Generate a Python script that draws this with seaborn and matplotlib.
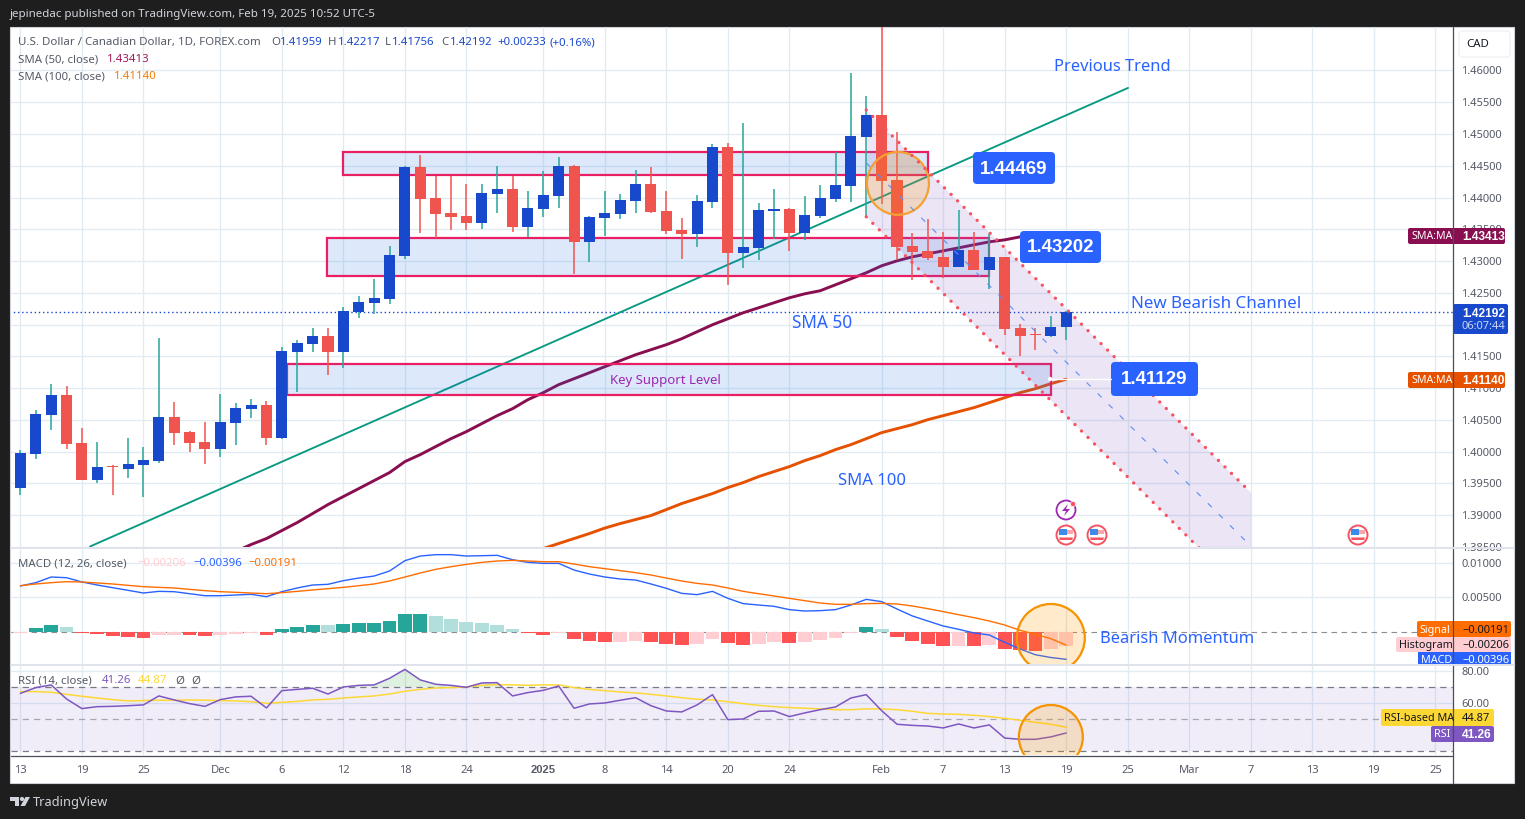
import numpy as np
import pandas as pd
import matplotlib
matplotlib.use("Agg")
import matplotlib.pyplot as plt
from matplotlib.patches import Rectangle, Ellipse, Circle, FancyBboxPatch, Polygon
import seaborn as sns

# candles, one entry per trading day (13 Nov 2024 -> 19 Feb 2025)
open_ = [1.39435,1.39970,1.40583,1.40897,1.40143,1.39561,1.39770,1.39734,1.39797,1.39860,
         1.40552,1.40316,1.40158,1.40048,1.40457,1.40677,1.40740,1.40221,1.41574,1.41699,
         1.41825,1.41574,1.42202,1.42344,1.42407,1.43083,1.44482,1.43995,1.43759,1.43712,
         1.43602,1.44058,1.44136,1.43539,1.43822,1.44026,1.44498,1.43303,1.43680,1.43743,
         1.43948,1.44215,1.43790,1.43492,1.43429,1.43932,1.44797,1.43130,1.43208,1.43790,
         1.43822,1.43444,1.43712,1.43979,1.44184,1.44954,1.45300,1.44278,1.43240,1.43161,
         1.43067,1.42910,1.43177,1.42863,1.43067,1.41951,1.41850,1.41825,1.41959]
high = [1.40033,1.40662,1.41070,1.41039,1.40379,1.40158,1.39797,1.40221,1.40080,1.41794,
        1.40787,1.40331,1.40473,1.40913,1.40772,1.40835,1.40803,1.41652,1.41762,1.41951,
        1.41951,1.42281,1.42454,1.42721,1.43240,1.44498,1.44671,1.44341,1.44341,1.44215,
        1.44215,1.44498,1.44341,1.44105,1.44419,1.44640,1.44514,1.43712,1.44105,1.44058,
        1.44435,1.44482,1.44105,1.43680,1.44042,1.44844,1.44860,1.45174,1.43916,1.44136,
        1.43838,1.44026,1.44199,1.44718,1.45960,1.45599,1.47920,1.45033,1.43444,1.43665,
        1.43460,1.43806,1.43460,1.43429,1.43067,1.42014,1.41951,1.42140,1.42217]
low = [1.39325,1.39891,1.40347,1.40048,1.39561,1.39514,1.39325,1.39592,1.39294,1.39828,
       1.40111,1.40001,1.39813,1.39923,1.40111,1.40536,1.40111,1.40205,1.40945,1.41574,
       1.41212,1.41322,1.42108,1.42171,1.42328,1.43036,1.43444,1.43366,1.43492,1.43492,
       1.43507,1.43759,1.43460,1.43381,1.43696,1.43838,1.42800,1.42989,1.43397,1.43665,
       1.43759,1.43759,1.43429,1.43036,1.43224,1.43838,1.42627,1.42894,1.43020,1.43350,
       1.43161,1.43334,1.43680,1.43932,1.43932,1.43696,1.43900,1.43020,1.42706,1.43020,
       1.42737,1.42910,1.42863,1.42564,1.41841,1.41511,1.41605,1.41810,1.41756]
close = [1.39985,1.40599,1.40897,1.40127,1.39561,1.39765,1.39755,1.39813,1.39875,1.40552,
         1.40300,1.40143,1.40048,1.40473,1.40693,1.40740,1.40221,1.41589,1.41715,1.41825,
         1.41574,1.42218,1.42360,1.42422,1.43099,1.44482,1.43979,1.43743,1.43696,1.43602,
         1.44073,1.44136,1.43539,1.43838,1.44042,1.44498,1.43303,1.43696,1.43759,1.43964,
         1.44215,1.43775,1.43476,1.43429,1.43948,1.44797,1.43130,1.43224,1.43806,1.43822,
         1.43444,1.43728,1.43995,1.44199,1.44970,1.45300,1.44262,1.43224,1.43146,1.43051,
         1.42910,1.43177,1.42863,1.43067,1.41935,1.41825,1.41830,1.41967,1.42192]

# moving averages, they enter the view later than the candles
sma50_start = 14
sma50 = [1.38429,1.38539,1.38633,1.38759,1.38885,1.39026,1.39168,1.39294,1.39419,1.39545,
         1.39671,1.39844,1.39954,1.40080,1.40205,1.40316,1.40442,1.40567,1.40677,1.40819,
         1.40929,1.41055,1.41149,1.41243,1.41338,1.41432,1.41526,1.41605,1.41684,1.41778,
         1.41888,1.41998,1.42092,1.42187,1.42265,1.42344,1.42422,1.42485,1.42533,1.42627,
         1.42721,1.42816,1.42926,1.43004,1.43067,1.43114,1.43161,1.43208,1.43256,1.43303,
         1.43334,1.43381,1.43389,1.43397,1.43413]
sma100_start = 34
sma100 = [1.38476,1.38555,1.38633,1.38712,1.38798,1.38869,1.38932,1.38995,1.39089,1.39184,
          1.39262,1.39341,1.39435,1.39514,1.39608,1.39687,1.39765,1.39860,1.39938,1.40033,
          1.40111,1.40205,1.40300,1.40363,1.40426,1.40504,1.40567,1.40630,1.40693,1.40772,
          1.40850,1.40929,1.40992,1.41070,1.41140]

# macd pane
macd_hist = [-0.00014,0.00053,0.00097,0.00068,-0.00010,-0.00034,-0.00063,-0.00077,-0.00092,-0.00048,
             -0.00046,-0.00050,-0.00063,-0.00048,-0.00034,-0.00014,-0.00048,0.00039,0.00068,0.00097,
             0.00095,0.00111,0.00126,0.00128,0.00155,0.00256,0.00258,0.00227,0.00184,0.00140,
             0.00126,0.00097,0.00039,-0.00010,-0.00039,-0.00014,-0.00097,-0.00126,-0.00140,-0.00138,
             -0.00126,-0.00140,-0.00169,-0.00184,-0.00169,-0.00097,-0.00155,-0.00184,-0.00169,-0.00152,
             -0.00155,-0.00140,-0.00111,-0.00082,-0.00010,0.00068,0.00039,-0.00068,-0.00126,-0.00169,
             -0.00198,-0.00196,-0.00199,-0.00184,-0.00242,-0.00256,-0.00271,-0.00242,-0.00206]
macd_line = [0.00667,0.00715,0.00797,0.00787,0.00725,0.00681,0.00642,0.00604,0.00565,0.00589,
             0.00584,0.00555,0.00526,0.00526,0.00536,0.00546,0.00512,0.00584,0.00638,0.00681,
             0.00691,0.00744,0.00782,0.00811,0.00884,0.01034,0.01101,0.01121,0.01121,0.01101,
             0.01106,0.01111,0.01048,0.01009,0.00995,0.00995,0.00898,0.00840,0.00797,0.00768,
             0.00753,0.00696,0.00633,0.00560,0.00541,0.00589,0.00488,0.00411,0.00391,0.00372,
             0.00324,0.00304,0.00309,0.00324,0.00391,0.00473,0.00440,0.00333,0.00232,0.00159,
             0.00087,0.00039,-0.00014,-0.00043,-0.00150,-0.00246,-0.00330,-0.00370,-0.00396]
signal_line = [0.00671,0.00696,0.00715,0.00729,0.00725,0.00710,0.00696,0.00676,0.00657,0.00647,
               0.00638,0.00618,0.00599,0.00584,0.00575,0.00565,0.00555,0.00570,0.00589,0.00609,
               0.00628,0.00647,0.00671,0.00696,0.00739,0.00797,0.00855,0.00908,0.00947,0.00980,
               0.01009,0.01029,0.01038,0.01029,0.01019,0.01019,0.00985,0.00947,0.00918,0.00889,
               0.00860,0.00826,0.00782,0.00739,0.00705,0.00681,0.00638,0.00589,0.00555,0.00522,
               0.00488,0.00454,0.00420,0.00401,0.00401,0.00411,0.00415,0.00406,0.00377,0.00338,
               0.00295,0.00251,0.00208,0.00159,0.00101,0.00024,-0.00034,-0.00097,-0.00191]

# rsi pane
rsi = [66.0,69.6,71.3,62.5,56.5,57.7,57.9,58.3,58.8,64.4,
       61.9,59.6,57.9,62.1,63.8,64.2,56.9,67.7,68.5,69.2,
       65.6,70.0,71.0,71.3,75.4,81.0,74.4,71.7,71.0,69.8,
       72.5,72.7,64.4,66.5,67.9,70.6,56.7,59.4,60.0,61.7,
       63.3,58.3,55.0,54.4,58.8,65.2,49.6,50.0,54.8,55.0,
       51.5,53.8,55.8,57.5,63.1,65.2,55.2,46.7,46.0,45.6,
       44.4,46.9,44.4,46.3,38.1,37.3,37.3,38.8,41.26]
rsi_ma = [67.1,67.1,66.7,65.4,64.2,63.1,62.1,61.3,61.5,61.7,
          61.7,61.9,61.7,61.5,61.3,60.8,59.8,60.4,61.0,61.9,
          62.3,63.1,63.8,64.4,65.6,67.3,68.5,69.4,69.6,70.0,
          71.0,71.5,71.3,71.0,71.3,71.3,69.6,68.5,67.7,66.9,
          66.3,65.4,64.4,63.3,62.3,61.9,60.8,59.6,58.5,57.7,
          57.1,56.7,56.3,55.8,55.8,56.3,56.3,55.8,54.8,53.5,
          53.1,52.9,52.3,51.5,50.4,49.2,47.9,46.7,44.87]

# time axis
date_pos = [0,4,8,13,17,21,25,29,34,38,42,46,50,56,60,64,68,72,76,80,84,88,92]
date_labels = ["13","19","25","Dec","6","12","18","24","2025","8","14","20","24",
               "Feb","7","13","19","25","Mar","7","13","19","25"]
price_ticks = [1.385,1.39,1.395,1.40,1.405,1.41,1.415,1.42,1.425,1.43,1.435,1.44,1.445,1.45,1.455,1.46]

W, H = 1525, 819
UP, DOWN = "#1848cc", "#f0544f"
WICK_UP, WICK_DOWN = "#26a69a", "#f0544f"
GRID = "#e1ecf2"
TEXT = "#555a66"
BLUE = "#2962ff"
PINK = "#e91e63"
BOLD = "Liberation Sans"

sns.set_theme(style="white")
plt.rcParams["font.family"] = ["Noto Sans", "DejaVu Sans"]

fig = plt.figure(figsize=(W / 100, H / 100), dpi=100, facecolor="#1e1e1e")


def pane(top, bottom):
    return fig.add_axes([11 / W, 1 - bottom / H, (1453 - 11) / W, (bottom - top) / H], facecolor="none")


# white sheet under the panes, pixel axes on top for the tags
back = fig.add_axes([0, 0, 1, 1], zorder=0)
back.set_xlim(0, W)
back.set_ylim(H, 0)
back.axis("off")
back.add_patch(Rectangle((10, 27), 1504, 756, fc="white", ec="#cfd2d8", lw=0.8))

ax = pane(27, 547)
ax_macd = pane(549, 664)
ax_rsi = pane(666, 755)
for a in (ax, ax_macd, ax_rsi):
    a.set_zorder(1)

over = fig.add_axes([0, 0, 1, 1], zorder=5, facecolor="none")
over.set_xlim(0, W)
over.set_ylim(H, 0)
over.axis("off")

idx = np.arange(len(close))
o, h, l, c = map(np.array, (open_, high, low, close))
is_up = c >= o

# ---------- price pane ----------
ax.hlines(close[-1], -1, 94, color=UP, lw=1, ls=(0, (1, 2)), zorder=1.5)
sns.lineplot(x=np.arange(sma50_start, 69), y=sma50, ax=ax, color="#880e4f", lw=2.1, zorder=2,
             estimator=None, errorbar=None)
sns.lineplot(x=np.arange(sma100_start, 69), y=sma100, ax=ax, color="#e65100", lw=2.1, zorder=2,
             estimator=None, errorbar=None)
# trend line
ax.plot([4.53, 72.02], [1.38508, 1.45725], color="#089981", lw=1.35, zorder=2)

# zones
for x0, x1, y0, y1 in [(20.97, 59.01, 1.44357, 1.44718),
                       (19.94, 62.98, 1.42768, 1.43366),
                       (17.33, 67.01, 1.40897, 1.41385)]:
    ax.add_patch(Rectangle((x0, y0), x1 - x0, y1 - y0, fc="#1e6fe8", alpha=0.15, ec="none", zorder=3))
    ax.add_patch(Rectangle((x0, y0), x1 - x0, y1 - y0, fc="none", ec=PINK, lw=1.6, zorder=3))

# bearish channel
ch_x = [55, 80]
ch_top = [1.45378, 1.39357]
ch_mid = [1.44545, 1.38515]
ch_bot = [1.43696, 1.37674]
ax.fill_between(ch_x, ch_bot, ch_top, color="#7e57c2", alpha=0.15, lw=0, zorder=3)

# candles
ax.vlines(idx, l, h, colors=[WICK_UP if u else WICK_DOWN for u in is_up], lw=1.1, zorder=4)
ax.bar(idx, np.abs(c - o), bottom=np.minimum(o, c), width=0.72,
       color=[UP if u else DOWN for u in is_up], linewidth=0, zorder=4.2)

ax.plot(ch_x, ch_mid, color="#5b8cf5", lw=0.8, ls=(0, (5, 9)), zorder=4.5)
for yy in (ch_top, ch_bot):
    ax.plot(ch_x, yy, color="#f7525f", lw=2.4, ls=(0, (0.01, 2.75)), dash_capstyle="round", zorder=4.5)

ax.add_patch(Ellipse((57.06, 1.44223), 4.03, 0.0099, fc="#ff9800", alpha=0.2, ec="none", zorder=4.3))
ax.add_patch(Ellipse((57.06, 1.44223), 4.03, 0.0099, fc="none", ec="#f5a033", lw=1.6, zorder=4.3))

ax.set_ylim(1.38508, 1.46684)
ax.set_yticks(price_ticks)
# 1.42000 sits fully behind the last price tag, same as the original
ax.set_yticklabels(["" if p == 1.42 else f"{p:.5f}" for p in price_ticks])

# ---------- macd pane ----------
hist = np.array(macd_hist)
rising = np.diff(hist, prepend=-0.0002) > 0
state = np.where(hist >= 0, np.where(rising, "up", "up_fade"), np.where(rising, "down_fade", "down"))
hist_df = pd.DataFrame({"bar": idx, "value": hist, "state": state})
sns.barplot(data=hist_df, x="bar", y="value", hue="state", native_scale=True, dodge=False, width=0.9,
            palette={"up": "#26a69a", "up_fade": "#b2dfdb", "down": "#ff5252", "down_fade": "#ffcdd2"},
            saturation=1, legend=False, ax=ax_macd, linewidth=0, zorder=2)
ax_macd.axhline(0, color="#8a8d96", lw=0.8, ls=(0, (5, 4)), zorder=1.5)
sns.lineplot(x=idx, y=macd_line, ax=ax_macd, color=BLUE, lw=1, zorder=3, estimator=None, errorbar=None)
sns.lineplot(x=idx, y=signal_line, ax=ax_macd, color="#ff6d00", lw=1, zorder=3, estimator=None, errorbar=None)
ax_macd.add_patch(Ellipse((67, -0.00087), 4.42, 0.00986, fc="#ff9800", alpha=0.2, ec="none", zorder=3.5))
ax_macd.add_patch(Ellipse((67, -0.00087), 4.42, 0.00986, fc="none", ec="#f59300", lw=1.6, zorder=3.5))
ax_macd.set_ylim(-0.00464, 0.01203)
ax_macd.set_yticks([0.005, 0.01])
ax_macd.set_yticklabels(["0.00500", "0.01000"])

# ---------- rsi pane ----------
ax_rsi.axhspan(30, 70, color="#7e57c2", alpha=0.1, lw=0, zorder=1.2)
ax_rsi.axhline(70, color="#787b86", lw=0.9, ls=(0, (5, 4)), zorder=1.5)
ax_rsi.axhline(50, color="#a5a7b0", lw=0.9, ls=(0, (5, 4)), zorder=1.5)
ax_rsi.axhline(30, color="#787b86", lw=0.9, ls=(0, (5, 4)), zorder=1.5)
rsi_arr = np.array(rsi)
ax_rsi.fill_between(idx, 70, rsi_arr, where=rsi_arr > 70, interpolate=True, color="#4caf50", alpha=0.18, lw=0, zorder=2)
sns.lineplot(x=idx, y=rsi_ma, ax=ax_rsi, color="#fdd835", lw=1.1, zorder=3, estimator=None, errorbar=None)
sns.lineplot(x=idx, y=rsi, ax=ax_rsi, color="#7e57c2", lw=1.1, zorder=3, estimator=None, errorbar=None)
ax_rsi.add_patch(Ellipse((67, 38.75), 4.16, 40, fc="#ff9800", alpha=0.2, ec="none", zorder=3.5))
ax_rsi.add_patch(Ellipse((67, 38.75), 4.16, 40, fc="none", ec="#f59300", lw=1.6, zorder=3.5))
ax_rsi.set_ylim(27.5, 83.1)
ax_rsi.set_yticks([60, 80])
ax_rsi.set_yticklabels(["60.00", "80.00"])

# shared look of the panes
for a in (ax, ax_macd, ax_rsi):
    a.set_xlim(-0.611, 93.15)
    a.set_xticks(date_pos)
    a.set_xlabel("")
    a.set_ylabel("")
    a.yaxis.tick_right()
    a.grid(True, color=GRID, lw=1)
    a.set_axisbelow(True)
    a.tick_params(axis="y", length=0, pad=6, labelsize=8, labelcolor=TEXT)
    a.tick_params(axis="x", length=0, labelbottom=False)
    for s in a.spines.values():
        s.set_visible(False)
ax_rsi.tick_params(axis="x", labelbottom=True, labelsize=8, labelcolor=TEXT, pad=7)
ax_rsi.set_xticklabels(date_labels)
for lab in ax_rsi.get_xticklabels():
    if lab.get_text() == "2025":
        lab.set_fontweight("bold")
        lab.set_family(BOLD)

# ---------- frame lines ----------
over.plot([1453, 1453], [27, 783], color="#4a4e5a", lw=0.9)
over.plot([11, 1453], [756, 756], color="#4a4e5a", lw=0.9)
over.plot([11, 1514], [548, 548], color="#e0e3eb", lw=1.4)
over.plot([11, 1514], [665, 665], color="#e0e3eb", lw=1.4)


def txt(x, y, s, color=TEXT, size=8.2, **kw):
    kw.setdefault("va", "center")
    # centred boxes sit a little high with these fonts
    over.text(x, y + 0.9 + (size - 8) * 0.2, s, color=color, fontsize=size, **kw)


def tag(x0, y0, x1, y1, color):
    over.add_patch(FancyBboxPatch((x0, y0), x1 - x0, y1 - y0, boxstyle="round,pad=0,rounding_size=2",
                                  fc=color, ec="none"))


# ---------- header and legends ----------
txt(10, 13.5, "jepinedac published on TradingView.com, Feb 19, 2025 10:52 UTC-5", color="#d1d4dc", size=8.3)
txt(18, 42, "U.S. Dollar / Canadian Dollar, 1D, FOREX.com", size=8.3)
for x, s, col in [(271, "O", TEXT), (280, "1.41959", UP), (328, "H", TEXT), (338, "1.42217", UP),
                  (385, "L", TEXT), (392, "1.41756", UP), (441, "C", TEXT), (450, "1.42192", UP),
                  (497, "+0.00233", UP), (549, "(+0.16%)", UP)]:
    txt(x, 42, s, color=col)
txt(18, 59, "SMA (50, close)")
txt(107, 59, "1.43413", color="#a3195b")
txt(18, 76, "SMA (100, close)")
txt(114, 76, "1.41140", color="#f57c00")
txt(18, 563, "MACD (12, 26, close)")
txt(137, 563, "−0.00206", color="#ffcdd2")
txt(193, 563, "−0.00396", color=BLUE)
txt(248, 563, "−0.00191", color="#ff6d00")
txt(18, 680, "RSI (14, close)")
txt(102, 680, "41.26", color="#7e57c2")
txt(138, 680, "44.87", color="#fdd835")
txt(175, 680, "Ø")
txt(191, 680, "Ø")

# ---------- drawing labels ----------
for x, y, s, fs in [(1054, 65, "Previous Trend", 11.9), (1131, 302, "New Bearish Channel", 12.2),
                    (792, 321, "SMA 50", 12.4), (838, 479, "SMA 100", 12), (1100, 637, "Bearish Momentum", 11.9)]:
    txt(x, y, s, color=BLUE, size=fs)
txt(610, 379, "Key Support Level", color="#9c27b0", size=9.5)

over.plot([1050, 1111], [379, 379], color="white", lw=1)
over.add_patch(Circle((1050, 379), 2.2, fc="white", ec="none"))
for x0, y0, x1, y1, s in [(973, 152, 1055, 184, "1.44469"), (1020, 231, 1101, 263, "1.43202"),
                          (1111, 362, 1198, 396, "1.41129")]:
    over.add_patch(FancyBboxPatch((x0, y0), x1 - x0, y1 - y0, boxstyle="round,pad=0,rounding_size=4",
                                  fc=BLUE, ec="none"))
    txt((x0 + x1) / 2, (y0 + y1) / 2 - 1, s, color="white", size=13.5, ha="center", fontweight="bold", family=BOLD)


# ---------- event icons ----------
def flag_icon(x, y):
    over.add_patch(Circle((x, y), 9.5, fc="white", ec="#f7525f", lw=1.4))
    over.add_patch(Rectangle((x - 7, y - 5), 14, 10, fc="#f7a6ab", ec="none"))
    over.add_patch(Rectangle((x - 7, y - 1), 14, 2.5, fc="white", ec="none"))
    over.add_patch(Rectangle((x - 7, y - 6), 7.5, 5.5, fc="#3d8be8", ec="none"))
    over.add_patch(Rectangle((x - 6, y + 3), 12, 2, fc="#f7525f", ec="none"))


flag_icon(1066, 535)
flag_icon(1097, 535)
flag_icon(1358, 535)
over.add_patch(Circle((1066, 510), 9.5, fc="white", ec="#9c27b0", lw=1.3))
over.add_patch(Polygon([(1068, 504), (1062, 511), (1066, 511), (1064, 516), (1070, 509), (1066, 509)],
                       fc="#9c27b0", ec="none"))
over.add_patch(Circle((1073, 504), 2.6, fc="#f7525f", ec="white", lw=0.5))

# ---------- price scale tags ----------
over.add_patch(FancyBboxPatch((1459, 31), 51, 26, boxstyle="round,pad=0,rounding_size=3", fc="white", ec="#eceef2", lw=0.8))
txt(1466, 44, "CAD", color="#131722", size=8.2)


def bold(x, y, s, color="white"):
    txt(x, y, s, color=color, size=8.6, fontweight="bold", family=BOLD)


tag(1408, 228, 1505, 244, "#880e4f")
txt(1411, 236, "SMA:MA", color="white", size=7.6)
bold(1462, 236, "1.43413")
tag(1408, 372, 1505, 388, "#e65100")
txt(1411, 380, "SMA:MA", color="white", size=7.6)
bold(1462, 380, "1.41140")
tag(1453, 304, 1508, 334, UP)
bold(1462, 313, "1.42192")
txt(1462, 326, "06:07:44", color="#c9d6f5", size=8)

tag(1417, 621, 1511, 637, "#ff6d00")
txt(1420, 630, "Signal", color="white", size=7.8)
txt(1462, 630, "−0.00191", color="#131722", size=8)
tag(1396, 637, 1511, 652, "#ffcdd2")
txt(1399, 645, "Histogram", color="#131722", size=7.8)
txt(1462, 645, "−0.00206", color="#131722", size=8)
over.add_patch(Rectangle((1418, 652), 93, 12, fc=BLUE, ec="none"))
over.text(1421, 666, "MACD", color="white", fontsize=7.8, va="bottom", clip_on=True,
          clip_path=Rectangle((1418, 652), 93, 12, transform=over.transData))
over.text(1462, 666, "−0.00396", color="white", fontsize=8, va="bottom", clip_on=True,
          clip_path=Rectangle((1418, 652), 93, 12, transform=over.transData))

tag(1381, 709, 1494, 726, "#fdd835")
txt(1384, 718, "RSI-based MA", color="#131722", size=7.8)
txt(1462, 718, "44.87", color="#131722", size=8)
tag(1431, 726, 1494, 742, "#7e57c2")
txt(1434, 734, "RSI", color="white", size=7.8)
bold(1462, 734, "41.26")

# ---------- tradingview mark ----------
over.add_patch(Polygon([(10, 797), (19, 797), (19, 806), (14.5, 806), (14.5, 801), (10, 801)], fc="#d1d4dc", ec="none"))
over.add_patch(Circle((22, 799), 2.1, fc="#d1d4dc", ec="none"))
over.add_patch(Polygon([(25.5, 797), (30, 797), (25, 806), (20.5, 806)], fc="#d1d4dc", ec="none"))
txt(33, 801, "TradingView", color="#d1d4dc", size=9.2)

fig.savefig("out.png", dpi=100, facecolor=fig.get_facecolor())
